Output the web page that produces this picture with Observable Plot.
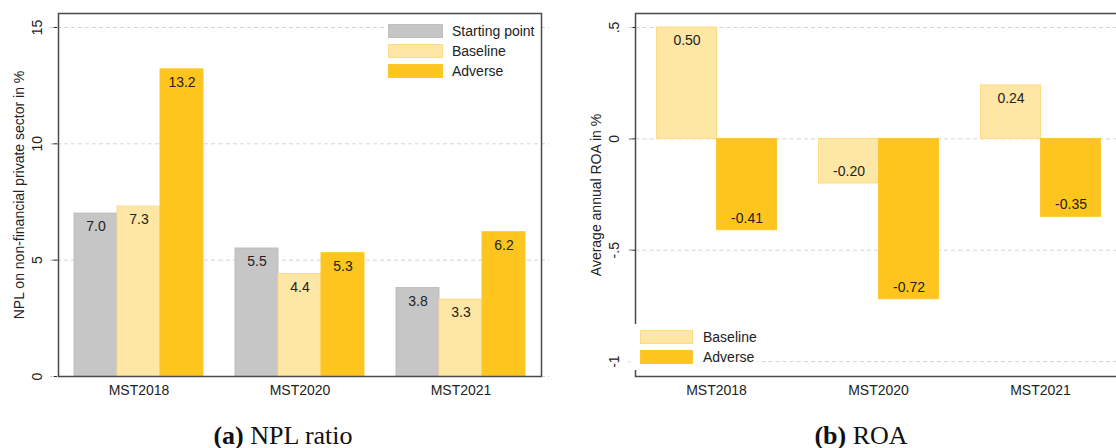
<!DOCTYPE html>
<html>
<head>
<meta charset="utf-8">
<script src="https://cdn.jsdelivr.net/npm/d3@7"></script>
<script src="https://cdn.jsdelivr.net/npm/@observablehq/plot@0.6"></script>
<style>
html, body { margin: 0; padding: 0; background: #fff; overflow: hidden; width: 1116px; height: 448px; }
#wrap { position: relative; width: 1116px; height: 448px; font-family: "Liberation Sans", Arial, sans-serif; }
.panel { position: absolute; top: 0; width: 558px; height: 406px; overflow: hidden; }
.legend { position: absolute; background: #fff; font-size: 14px; color: #222; box-sizing: border-box; }
.legend .row { display: flex; align-items: center; height: 20px; }
.legend .sw { height: 14px; box-sizing: border-box; border: 1px solid; }
.caption { position: absolute; top: 423px; width: 240px; text-align: center; font-family: "Liberation Serif", "Times New Roman", serif; font-size: 26px; line-height: 26px; color: #111; white-space: nowrap; }
</style>
</head>
<body>
<div id="wrap">
  <div class="panel" id="left" style="left:0px"></div>
  <div class="panel" id="right" style="left:558px"></div>
  <div class="legend" id="legL" style="left:384px; top:17px; width:156px; padding:4px 0 4px 4px;"></div>
  <div class="legend" id="legR" style="left:630px; top:324px; width:127px; padding:3px 0 3px 10px;"></div>
  <div class="caption" style="left:163px;"><b>(a)</b> NPL ratio</div>
  <div class="caption" style="left:741px;"><b>(b)</b> ROA</div>
</div>
<script>
// ---- data ----
const groups = ["MST2018", "MST2020", "MST2021"];
const nplSeries = ["Starting point", "Baseline", "Adverse"];
const nplStart = [7.0, 5.5, 3.8];
const nplBaseline = [7.3, 4.4, 3.3];
const nplAdverse = [13.2, 5.3, 6.2];
const nplTicks = [0, 5, 10, 15];
const nplLabel = "NPL on non-financial private sector in %";

const roaSeries = ["Baseline", "Adverse"];
const roaBaseline = [0.50, -0.20, 0.24];
const roaAdverse = [-0.41, -0.72, -0.35];
const roaTicks = [-1, -0.5, 0, 0.5];
const roaLabel = "Average annual ROA in %";

// ---- styles ----
const fills = {"Starting point": "#c6c6c6", "Baseline": "#fee6a5", "Adverse": "#fdc51e"};
const strokes = {"Starting point": "#bebebe", "Baseline": "#fddc86", "Adverse": "#fbc833"};

const nplData = groups.flatMap((g, i) => [
  {group: g, series: "Starting point", value: nplStart[i]},
  {group: g, series: "Baseline", value: nplBaseline[i]},
  {group: g, series: "Adverse", value: nplAdverse[i]}
]);
const roaData = groups.flatMap((g, i) => [
  {group: g, series: "Baseline", value: roaBaseline[i]},
  {group: g, series: "Adverse", value: roaAdverse[i]}
]);

function panel({data, series, ticks, domain, label, tickFormat, fmt, marginLeft, marginRight, fxPadOuter, xPadOuter}) {
  const W = 558;
  const ext = fxPadOuter * (W - marginLeft - marginRight) / (groups.length + 2 * fxPadOuter);
  const gridData = groups.flatMap(g => ticks.map(t => ({group: g, tick: t})));
  return Plot.plot({
    width: W, height: 406,
    marginTop: 13, marginBottom: 30, marginLeft, marginRight,
    style: {fontFamily: "Liberation Sans, Arial, sans-serif", fontSize: "14px", color: "#222", background: "#fff"},
    fx: {domain: groups, paddingInner: 0, paddingOuter: fxPadOuter, label: null, tickSize: 0, tickPadding: 9, axis: "bottom"},
    x: {domain: series, paddingInner: 0, paddingOuter: xPadOuter, axis: null},
    y: {domain, ticks, tickFormat, tickRotate: -90, tickSize: 6, tickPadding: 11, label, labelAnchor: "center", labelOffset: 44, labelArrow: "none"},
    marks: [
      ...groups.map((g, i) => Plot.ruleY(gridData.filter(d => d.group === g), {
        fx: "group", y: "tick",
        insetLeft: i === 0 ? -ext : 0,
        insetRight: i === groups.length - 1 ? -ext : 0,
        stroke: "#d4d4d4", strokeDasharray: "4,3"
      })),
      ...series.map(s => Plot.barY(data.filter(d => d.series === s), {
        fx: "group", x: "series", y: "value", fill: fills[s], stroke: strokes[s], strokeWidth: 1
      })),
      Plot.text(data, {filter: d => d.value >= 0, fx: "group", x: "series", y: "value", text: d => fmt(d.value), dy: 13, fill: "#222"}),
      Plot.text(data, {filter: d => d.value < 0, fx: "group", x: "series", y: "value", text: d => fmt(d.value), dy: -12, fill: "#222"}),
      Plot.frame({facet: "super", stroke: "#4a4a4a", strokeWidth: 1.5})
    ]
  });
}

document.getElementById("left").append(panel({
  data: nplData, series: nplSeries, ticks: nplTicks, domain: [0, 15.6], label: nplLabel,
  tickFormat: d => String(d), fmt: v => v.toFixed(1),
  marginLeft: 49, marginRight: 8.5, fxPadOuter: 0.05, xPadOuter: 0.348
}));

document.getElementById("right").append(panel({
  data: roaData, series: roaSeries, ticks: roaTicks, domain: [-1.067, 0.563], label: roaLabel,
  tickFormat: d => d === 0 ? "0" : String(d).replace("0.", "."), fmt: v => v.toFixed(2),
  marginLeft: 70.5, marginRight: -11.5, fxPadOuter: 0.04, xPadOuter: 0.328
}));

function legend(el, series, swW, gap) {
  for (const s of series) {
    const row = document.createElement("div");
    row.className = "row";
    const sw = document.createElement("div");
    sw.className = "sw";
    sw.style.width = swW + "px";
    sw.style.marginRight = gap + "px";
    sw.style.background = fills[s];
    sw.style.borderColor = strokes[s];
    const t = document.createElement("span");
    t.textContent = s;
    row.append(sw, t);
    el.append(row);
  }
}
legend(document.getElementById("legL"), nplSeries, 55, 9);
legend(document.getElementById("legR"), roaSeries, 53, 10);
</script>
</body>
</html>
